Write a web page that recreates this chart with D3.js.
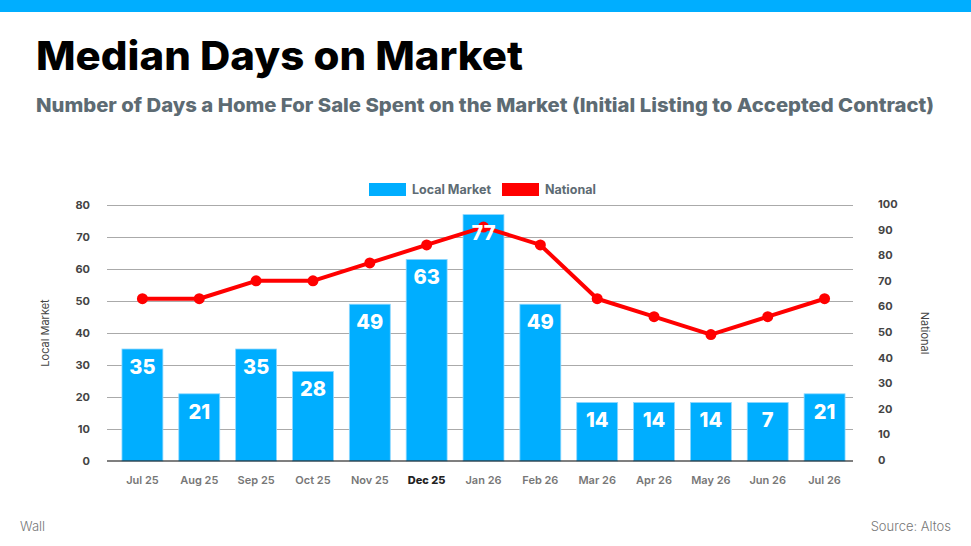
<!DOCTYPE html>
<html>
<head>
<meta charset="utf-8">
<script src="https://cdn.jsdelivr.net/npm/d3@7"></script>
<style>
body { margin: 0; background: #fff; }
svg { display: block; font-family: "Inter", "Lato", sans-serif; }
</style>
</head>
<body>
<svg width="971" height="546"></svg>
<script>
// data
var months = ["Jul 25","Aug 25","Sep 25","Oct 25","Nov 25","Dec 25","Jan 26","Feb 26","Mar 26","Apr 26","May 26","Jun 26","Jul 26"];
var localBars = [35, 21, 35, 28, 49, 63, 77, 49, 18.3, 18.3, 18.3, 18.3, 21];
var localLabels = [35, 21, 35, 28, 49, 63, 77, 49, 14, 14, 14, 7, 21];
var national = [63, 63, 70, 70, 77, 84, 91, 84, 63, 56, 49, 56, 63];
var leftTicks = [0, 10, 20, 30, 40, 50, 60, 70, 80];
var rightTicks = [0, 10, 20, 30, 40, 50, 60, 70, 80, 90, 100];

var svg = d3.select("svg");
var blue = "#00aeff", red = "#ff0000", grey = "#5d6b73";

svg.append("rect").attr("x", 0).attr("y", 0).attr("width", 971).attr("height", 12).attr("fill", blue);

svg.append("text")
  .attr("x", 36).attr("y", 70)
  .attr("font-size", "40px").attr("font-weight", 800)
  .attr("fill", "#000")
  .attr("textLength", 487).attr("lengthAdjust", "spacingAndGlyphs")
  .text("Median Days on Market");

svg.append("text")
  .attr("x", 36).attr("y", 112)
  .attr("font-size", "19px").attr("font-weight", 800)
  .attr("fill", grey)
  .attr("textLength", 898).attr("lengthAdjust", "spacingAndGlyphs")
  .text("Number of Days a Home For Sale Spent on the Market (Initial Listing to Accepted Contract)");

var x = d3.scaleBand().domain(months).range([114, 853]).paddingInner(0.28).paddingOuter(0.14);
var yL = d3.scaleLinear().domain([0, 80]).range([461, 205]);
var yR = d3.scaleLinear().domain([0, 100]).range([460, 204]);

// gridlines
svg.append("g")
  .attr("transform", "translate(107,0)")
  .call(d3.axisLeft(yL).tickValues(leftTicks.slice(1)).tickSize(-746).tickFormat(""))
  .call(function(g){ g.select(".domain").remove(); g.selectAll("line").attr("stroke", "#aaa"); });

// left axis labels
svg.append("g")
  .attr("transform", "translate(90,0)")
  .call(d3.axisLeft(yL).tickValues(leftTicks).tickSize(0).tickPadding(0))
  .call(function(g){
    g.select(".domain").remove();
    g.selectAll("text").attr("font-size", "11px").attr("font-weight", 700).attr("fill", "#444").attr("font-family", "Inter, sans-serif");
  });

// right axis labels
svg.append("g")
  .attr("transform", "translate(878,0)")
  .call(d3.axisRight(yR).tickValues(rightTicks).tickSize(0).tickPadding(0))
  .call(function(g){
    g.select(".domain").remove();
    g.selectAll("text").attr("font-size", "11px").attr("font-weight", 700).attr("fill", "#444").attr("font-family", "Inter, sans-serif");
  });

// bars
svg.selectAll(".bar")
  .data(localBars)
  .enter().append("rect")
  .attr("class", "bar")
  .attr("x", function(d, i){ return x(months[i]); })
  .attr("y", function(d){ return yL(d); })
  .attr("width", x.bandwidth())
  .attr("height", function(d){ return yL(0) - yL(d); })
  .attr("fill", blue)
  .attr("stroke", "#8fd8ff").attr("stroke-width", 0.8);

// baseline
svg.append("line").attr("x1", 107).attr("x2", 853).attr("y1", yL(0)).attr("y2", yL(0)).attr("stroke", "#000").attr("stroke-width", 1.2);

// x labels
svg.append("g")
  .attr("transform", "translate(0,476)")
  .call(d3.axisBottom(x).tickSize(0).tickPadding(0))
  .call(function(g){
    g.select(".domain").remove();
    g.selectAll("text")
      .attr("font-size", "11px").attr("font-family", "Inter, sans-serif")
      .attr("fill", function(d){ return d === "Dec 25" ? "#222" : "#777"; })
      .attr("font-weight", function(d){ return d === "Dec 25" ? 800 : 600; });
  });

// national line
var line = d3.line()
  .x(function(d, i){ return x(months[i]) + x.bandwidth() / 2; })
  .y(function(d){ return yR(d); });

svg.append("path")
  .datum(national)
  .attr("d", line)
  .attr("fill", "none")
  .attr("stroke", red)
  .attr("stroke-width", 4)
  .attr("stroke-linejoin", "round");

svg.selectAll(".dot")
  .data(national)
  .enter().append("circle")
  .attr("class", "dot")
  .attr("cx", function(d, i){ return x(months[i]) + x.bandwidth() / 2; })
  .attr("cy", function(d){ return yR(d); })
  .attr("r", 5.5)
  .attr("fill", red);

// bar value labels
svg.selectAll(".lbl")
  .data(localLabels)
  .enter().append("text")
  .attr("class", "lbl")
  .attr("x", function(d, i){ return x(months[i]) + x.bandwidth() / 2; })
  .attr("y", function(d, i){ return yL(localBars[i]) + 25; })
  .attr("text-anchor", "middle")
  .attr("font-size", "20px").attr("font-weight", 800)
  .attr("fill", "#fff")
  .text(function(d){ return d; });

// legend
var legend = [["Local Market", blue, 369], ["National", red, 502]];
legend.forEach(function(l){
  svg.append("rect").attr("x", l[2]).attr("y", 183).attr("width", 37).attr("height", 13).attr("fill", l[1]);
  svg.append("text").attr("x", l[2] + 43).attr("y", 194)
    .attr("font-size", "12.5px").attr("font-weight", 700).attr("fill", grey)
    .text(l[0]);
});

// axis titles
svg.append("text")
  .attr("transform", "translate(49,333) rotate(-90)")
  .attr("text-anchor", "middle").attr("font-size", "11px").attr("fill", "#444")
  .text("Local Market");
svg.append("text")
  .attr("transform", "translate(921,333) rotate(90)")
  .attr("text-anchor", "middle").attr("font-size", "11px").attr("fill", "#444")
  .text("National");

// footer
svg.append("text").attr("x", 20).attr("y", 531).attr("font-size", "13px").attr("font-weight", 300).attr("fill", "#777").text("Wall");
svg.append("text").attr("x", 951).attr("y", 531).attr("text-anchor", "end").attr("font-size", "13px").attr("font-weight", 300).attr("fill", "#777").text("Source: Altos");
</script>
</body>
</html>
